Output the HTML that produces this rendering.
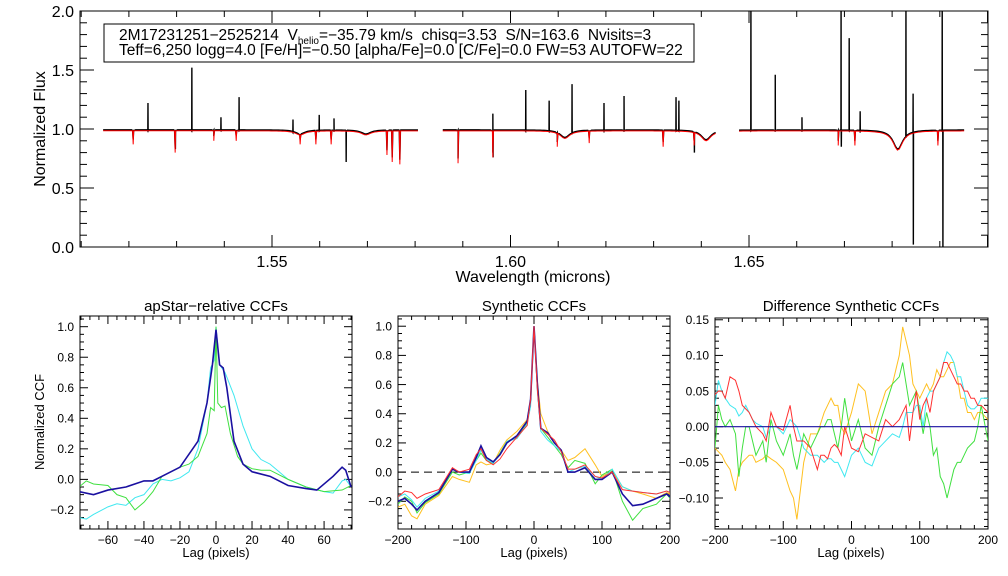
<!DOCTYPE html>
<html><head><meta charset="utf-8"><style>
html,body{margin:0;padding:0;background:#fff;}
svg{display:block;font-family:"Liberation Sans",sans-serif;}
</style></head><body>
<svg id="c" width="1008" height="576" viewBox="0 0 1008 576" xmlns="http://www.w3.org/2000/svg">
<rect width="1008" height="576" fill="#fff"/>
</svg>
<script>
// ---- spectrum data ----
const segments = [[1.5146,1.5806],[1.5858,1.6432],[1.6479,1.6951]];
const spikeWave = [1.5240,1.5332,1.5393,1.5431,1.5544,1.5599,1.5630,1.5963,1.6032,1.6081,1.6129,1.6196,1.6238,1.6347,1.6353,1.6504,1.6555,1.6611,1.6693,1.6710,1.6733,1.6829,1.6844,1.6905];
const spikeFlux = [1.22,1.52,1.10,1.27,1.08,1.12,1.09,1.13,1.33,1.24,1.38,1.22,1.28,1.27,1.24,2.1,1.46,1.10,2.1,1.77,1.15,2.1,1.30,2.1];
const dropWave = [1.5297,1.5655,1.5963,1.6385,1.6693,1.6844,1.6906];
const dropFlux = [0.83,0.72,0.76,0.80,0.85,0.02,-0.1];
const lineWave = [1.5209,1.5297,1.5378,1.5425,1.5559,1.5592,1.5624,1.5741,1.5752,1.5768,1.5890,1.5963,1.6098,1.6165,1.6320,1.6385,1.6687,1.6722,1.6896];
const lineDepth = [0.87,0.80,0.90,0.90,0.87,0.87,0.87,0.78,0.72,0.70,0.71,0.76,0.85,0.88,0.85,0.86,0.86,0.86,0.86];
const broadWave = [1.5559,1.5697,1.6114,1.6410,1.6812];
const broadDepth = [0.95,0.95,0.92,0.90,0.82];

// ---- CCF data ----
const lagA = [-76,-68,-60,-50,-40,-35,-30,-20,-10,-5,-2,0,2,4,6,10,15,20,30,40,50,56,65,70,72,75];
const ccfA_navy = [-0.08,-0.10,-0.07,-0.05,-0.01,-0.01,0.02,0.08,0.25,0.5,0.75,0.98,0.75,0.73,0.6,0.25,0.1,0.05,0.02,-0.04,-0.06,-0.07,0.02,0.08,0.06,-0.05];
const lagB = [-76,-72,-68,-60,-55,-50,-45,-40,-35,-30,-25,-20,-15,-10,-5,-3,-1,0,2,5,10,15,20,25,30,35,40,50,60,65,70,72,75];
const ccfA_cyan = [-0.25,-0.26,-0.23,-0.18,-0.16,-0.17,-0.12,-0.10,-0.03,0.0,-0.01,0.01,0.05,0.2,0.5,0.73,0.78,1.0,0.75,0.7,0.55,0.35,0.2,0.13,0.1,0.05,0.0,-0.05,-0.08,-0.09,-0.01,0.0,-0.05];
const lagC = [-76,-72,-68,-60,-55,-50,-45,-40,-35,-30,-20,-15,-10,-5,-3,-1,0,1,3,5,8,12,15,20,25,30,40,50,60,70,75];
const ccfA_green = [-0.05,-0.01,-0.03,-0.04,-0.10,-0.12,-0.20,-0.15,-0.08,0.02,0.08,0.10,0.15,0.30,0.47,0.45,1.0,0.5,0.47,0.48,0.3,0.15,0.1,0.07,0.06,0.06,0.0,-0.05,-0.08,-0.07,-0.04];

const lagS = [-200,-190,-180,-172,-160,-140,-120,-110,-95,-85,-78,-70,-60,-50,-40,-25,-10,-5,0,5,10,20,30,40,50,60,75,90,100,115,130,145,160,180,195,200];
const syn_navy = [-0.20,-0.18,-0.22,-0.26,-0.20,-0.14,0.02,0.0,0.0,0.10,0.18,0.10,0.07,0.12,0.20,0.25,0.35,0.50,1.0,0.6,0.3,0.27,0.20,0.15,0.0,0.0,0.03,-0.05,-0.05,0.0,-0.15,-0.23,-0.22,-0.18,-0.15,-0.17];
const syn_cyan = [-0.17,-0.15,-0.19,-0.24,-0.18,-0.13,0.02,0.0,-0.01,0.08,0.15,0.09,0.06,0.12,0.21,0.23,0.33,0.45,1.0,0.55,0.28,0.22,0.18,0.14,0.0,0.02,0.04,-0.03,-0.05,0.02,-0.10,-0.13,-0.14,-0.15,-0.13,-0.14];
const syn_green = [-0.22,-0.17,-0.2,-0.28,-0.21,-0.15,0.0,-0.02,0.0,0.08,0.13,0.08,0.06,0.13,0.21,0.24,0.34,0.48,1.0,0.58,0.3,0.24,0.18,0.12,0.03,0.08,0.06,-0.08,-0.02,0.02,-0.2,-0.33,-0.25,-0.22,-0.15,-0.18];
const syn_yellow = [-0.24,-0.22,-0.30,-0.32,-0.22,-0.16,-0.03,-0.05,-0.07,0.05,0.07,0.05,0.06,0.15,0.22,0.28,0.36,0.5,1.0,0.62,0.4,0.28,0.2,0.15,0.08,0.1,0.16,0.05,-0.03,0.01,-0.1,-0.13,-0.15,-0.18,-0.14,-0.15];
const syn_red = [-0.17,-0.13,-0.14,-0.18,-0.15,-0.12,0.03,0.0,0.02,0.12,0.16,0.08,0.05,0.09,0.16,0.24,0.32,0.5,1.0,0.56,0.3,0.26,0.22,0.14,0.02,0.02,0.05,-0.03,-0.04,0.0,-0.12,-0.13,-0.14,-0.15,-0.13,-0.14];

const lagD = [-200,-195,-190,-185,-178,-170,-165,-160,-155,-150,-145,-140,-130,-125,-118,-110,-100,-90,-85,-80,-70,-60,-50,-45,-40,-35,-30,-25,-20,-15,-10,0,10,20,30,40,50,60,70,75,80,85,90,95,100,105,110,115,120,125,130,135,140,145,150,155,160,165,170,175,180,185,190,200];
const diff_red = [0.045,0.05,0.05,0.04,0.07,0.065,0.05,0.03,0.025,0.02,0.01,0.0,-0.01,-0.02,0.02,0.0,-0.005,0.03,0.0,-0.02,-0.02,-0.03,-0.06,-0.04,-0.04,-0.045,-0.03,-0.025,-0.03,-0.04,0.0,-0.03,-0.035,-0.01,-0.015,-0.02,0.01,0.0,0.01,0.02,0.03,-0.02,0.02,0.05,0.01,0.03,0.04,0.02,0.05,0.06,0.07,0.09,0.09,0.08,0.07,0.06,0.06,0.05,0.05,0.04,0.04,0.03,0.03,0.02];
const diff_cyan = [0.03,0.065,0.05,0.04,0.03,0.025,0.015,0.02,0.03,0.02,0.01,0.005,0.0,-0.015,0.0,0.0,-0.01,0.01,0.005,0.0,-0.03,-0.04,-0.04,-0.045,-0.05,-0.045,-0.045,-0.05,-0.05,-0.06,-0.07,-0.04,-0.03,-0.05,-0.055,-0.03,-0.02,-0.01,-0.015,0.0,0.02,0.02,0.02,0.03,0.03,0.0,0.04,0.05,0.05,0.06,0.07,0.09,0.105,0.1,0.09,0.07,0.07,0.05,0.03,0.025,0.025,0.03,0.04,0.04];
const diff_green = [-0.03,0.03,0.01,0.0,0.01,-0.01,-0.07,-0.03,0.0,0.0,-0.02,-0.04,-0.02,-0.05,0.01,-0.02,-0.04,-0.01,-0.04,-0.06,-0.01,-0.03,-0.01,0.0,0.0,0.01,0.01,-0.01,-0.03,0.0,0.04,-0.02,0.01,-0.03,-0.04,0.0,0.03,0.06,0.07,0.09,0.06,0.03,0.04,0.05,0.02,-0.01,0.02,0.0,-0.04,-0.03,-0.07,-0.08,-0.1,-0.08,-0.06,-0.05,-0.05,-0.04,-0.03,-0.025,-0.02,0.0,0.03,-0.02];
const diff_yellow = [-0.03,-0.035,-0.04,-0.05,-0.06,-0.09,-0.06,-0.05,-0.045,-0.04,-0.04,-0.05,-0.045,-0.04,-0.045,-0.05,-0.06,-0.09,-0.1,-0.13,-0.05,-0.01,-0.01,0.005,0.02,0.03,0.04,0.03,0.03,0.0,-0.01,0.02,0.06,0.05,-0.01,0.02,0.05,0.06,0.1,0.14,0.12,0.1,0.06,0.05,0.04,0.05,0.06,0.05,0.06,0.08,0.07,0.07,0.08,0.09,0.09,0.07,0.04,0.04,0.02,0.02,0.01,0.02,0.02,0.01];

const NS = "http://www.w3.org/2000/svg";
const svg = document.getElementById('c');
function el(tag, attrs, parent){ const e=document.createElementNS(NS,tag); for(const k in attrs) e.setAttribute(k,attrs[k]); (parent||svg).appendChild(e); return e; }
function txt(s,x,y,size,anchor,parent,rot){ const t=el('text',{x:x,y:y,'font-size':size,'text-anchor':anchor||'middle',fill:'#000'},parent); if(rot) t.setAttribute('transform','rotate(-90 '+x+' '+y+')'); t.textContent=s; return t; }

function axes(p){
  const g=el('g',{});
  
  
  el('rect',{x:p.x0,y:p.y0,width:p.x1-p.x0,height:p.y1-p.y0,fill:'none',stroke:'#000','stroke-width':1},g);
  const X=v=>p.x0+(v-p.xmin)/(p.xmax-p.xmin)*(p.x1-p.x0);
  const Y=v=>p.y1-(v-p.ymin)/(p.ymax-p.ymin)*(p.y1-p.y0);
  p.X=X; p.Y=Y;
  const eps=1e-9;
  for(let v=Math.ceil(p.xmin/p.xminor-eps)*p.xminor; v<=p.xmax+eps; v+=p.xminor){
    const isMaj=Math.abs(v/p.xmajor-Math.round(v/p.xmajor))<1e-6; const L=isMaj?p.tl:p.tl/2; const x=X(v);
    el('line',{x1:x,y1:p.y1,x2:x,y2:p.y1-L,stroke:'#000'},g); el('line',{x1:x,y1:p.y0,x2:x,y2:p.y0+L,stroke:'#000'},g);
  }
  for(let v=Math.ceil(p.ymin/p.yminor-eps)*p.yminor; v<=p.ymax+eps; v+=p.yminor){
    const isMaj=Math.abs(v/p.ymajor-Math.round(v/p.ymajor))<1e-6; const L=isMaj?p.tlx:p.tlx/2; const y=Y(v);
    el('line',{x1:p.x0,y1:y,x2:p.x0+L,y2:y,stroke:'#000'},g); el('line',{x1:p.x1,y1:y,x2:p.x1-L,y2:y,stroke:'#000'},g);
  }
  p.xlabels.forEach(v=>{ const t=txt(p.xfmt(v),X(v),p.y1+p.xlo,p.fs,'middle',g);   });
  p.ylabels.forEach(v=>{ const t=txt(p.yfmt(v),p.x0-p.ylo,Y(v)+p.fs*0.36,p.fs,'end',g);   });
  return g;
}
function line(p,xs,ys,color,w,name,dash){
  const pts=xs.map((x,i)=>p.X(x).toFixed(2)+','+p.Y(ys[i]).toFixed(2)).join(' ');
  const pl=el('polyline',{points:pts,fill:'none',stroke:color,'stroke-width':w||1,'clip-path':'url(#'+p.clip+')'});
  if(dash) pl.setAttribute('stroke-dasharray',dash);
  
  
  return pl;
}
const defs=el('defs',{});
function clip(id,p){ const c=el('clipPath',{id:id},defs); el('rect',{x:p.x0,y:p.y0,width:p.x1-p.x0,height:p.y1-p.y0},c); p.clip=id; }

// ---- top spectrum panel ----
const P={name:'spectrum',x0:80,x1:988,y0:11,y1:247,xmin:1.50975,xmax:1.7001,ymin:0,ymax:2,xmajor:0.05,xminor:0.01,ymajor:0.5,yminor:0.1,tl:12,tlx:14,
 xlabels:[1.55,1.60,1.65],ylabels:[0,0.5,1,1.5,2],xfmt:v=>v.toFixed(2),yfmt:v=>v.toFixed(1),fs:16,xlo:20,ylo:6};
clip('clipTop',P); axes(P);
function modelAt(l){ let f=0.985; broadWave.forEach((b,i)=>{ const d=(l-b)/0.0012; f-= (0.985-broadDepth[i])/(1+d*d); }); return f; }
segments.forEach((s,si)=>{
  const rx=[],ry=[],bx=[],by=[];
  const lines=[];
  lineWave.forEach((w,i)=>{ if(w>=s[0]&&w<=s[1]) lines.push({w:w,d:lineDepth[i]}); });
  const sp=[];
  spikeWave.forEach((w,i)=>{ if(w>=s[0]&&w<=s[1]) sp.push({w:w,f:spikeFlux[i]}); });
  dropWave.forEach((w,i)=>{ if(w>=s[0]&&w<=s[1]) sp.push({w:w+0.00005,f:dropFlux[i]}); });
  for(let l=s[0]; l<=s[1]; l+=0.0004){ rx.push(l); ry.push(modelAt(l)); bx.push(l); by.push(modelAt(l)+0.008); }
  lines.forEach(o=>{ rx.push(o.w-0.00012,o.w,o.w+0.00012); ry.push(modelAt(o.w),o.d,modelAt(o.w)); bx.push(o.w-0.00012,o.w,o.w+0.00012); by.push(modelAt(o.w),o.d+0.04,modelAt(o.w)); });
  sp.forEach(o=>{ bx.push(o.w-0.00003,o.w,o.w+0.00003); by.push(modelAt(o.w),o.f,modelAt(o.w)); });
  const ordR=rx.map((v,i)=>i).sort((a,b)=>rx[a]-rx[b]);
  const ordB=bx.map((v,i)=>i).sort((a,b)=>bx[a]-bx[b]);
  line(P,ordB.map(i=>bx[i]),ordB.map(i=>by[i]),'#000',1.4,'observed-spectrum-seg'+(si+1));
  line(P,ordR.map(i=>rx[i]),ordR.map(i=>ry[i]),'#ff0000',1,'model-spectrum-seg'+(si+1));
});
{ const t=txt('Normalized Flux',45,129,16,'middle',svg,true);  
  const t2=txt('Wavelength (microns)',533,282,16,'middle');   }
// info box
{ const g=el('g',{});  
  el('rect',{x:104,y:24,width:590,height:38,fill:'#fff',stroke:'#000'},g);
  const t1=el('text',{x:119,y:40,'font-size':15.5,fill:'#000'},g);
  t1.innerHTML='2M17231251\u22122525214&#160; V<tspan font-size="10" dy="4">helio</tspan><tspan dy="-4">=\u221235.79 km/s&#160; chisq=3.53&#160; S/N=163.6&#160; Nvisits=3</tspan>';
  const t2=el('text',{x:119,y:55,'font-size':15.5,fill:'#000'},g);
  t2.textContent='Teff=6,250 logg=4.0 [Fe/H]=\u22120.50 [alpha/Fe]=0.0 [C/Fe]=0.0 FW=53 AUTOFW=22';
}

// ---- bottom panels ----
const fmt2=v=>(v<0?'\u2212':'')+Math.abs(v).toFixed(1);
const A={name:'apstar-ccf',x0:80,x1:352,y0:316,y1:529,xmin:-75.5,xmax:75.5,ymin:-0.325,ymax:1.07,xmajor:20,xminor:5,ymajor:0.2,yminor:0.05,tl:8,tlx:8,
 xlabels:[-60,-40,-20,0,20,40,60],ylabels:[-0.2,0,0.2,0.4,0.6,0.8,1.0],xfmt:v=>(v<0?'\u2212':'')+Math.abs(v),yfmt:fmt2,fs:12,xlo:15,ylo:6};
clip('clipA',A); axes(A);
line(A,lagB,ccfA_cyan,'#40e8f0',1,'apstar-ccf-cyan');
line(A,lagC,ccfA_green,'#40e040',1,'apstar-ccf-green');
line(A,lagA,ccfA_navy,'#1a10a0',1.6,'apstar-ccf-navy');

const B={name:'synthetic-ccf',x0:398,x1:670,y0:316,y1:529,xmin:-200,xmax:200,ymin:-0.39,ymax:1.07,xmajor:100,xminor:20,ymajor:0.2,yminor:0.05,tl:8,tlx:8,
 xlabels:[-200,-100,0,100,200],ylabels:[-0.2,0,0.2,0.4,0.6,0.8,1.0],xfmt:v=>(v<0?'\u2212':'')+Math.abs(v),yfmt:fmt2,fs:12,xlo:15,ylo:6};
clip('clipB',B); axes(B);
line(B,[-200,200],[0,0],'#000',1,'zero-line','8,5');
line(B,lagS,syn_yellow,'#ffc020',1,'synthetic-ccf-yellow');
line(B,lagS,syn_green,'#40e040',1,'synthetic-ccf-green');
line(B,lagS,syn_cyan,'#40e8f0',1,'synthetic-ccf-cyan');
line(B,lagS,syn_navy,'#1a10a0',1.6,'synthetic-ccf-navy');
line(B,lagS,syn_red,'#ff3030',1,'synthetic-ccf-red');

const fmt3=v=>(v<-1e-9?'\u2212':'')+Math.abs(v).toFixed(2);
const C={name:'difference-ccf',x0:715,x1:988,y0:318,y1:529,xmin:-200,xmax:200,ymin:-0.1435,ymax:0.1525,xmajor:100,xminor:20,ymajor:0.05,yminor:0.01,tl:8,tlx:8,
 xlabels:[-200,-100,0,100,200],ylabels:[-0.1,-0.05,0,0.05,0.1,0.15],xfmt:v=>(v<0?'\u2212':'')+Math.abs(v),yfmt:fmt3,fs:12,xlo:15,ylo:6};
clip('clipC',C); axes(C);
line(C,lagD,diff_yellow,'#ffc020',1,'difference-ccf-yellow');
line(C,lagD,diff_green,'#40e040',1,'difference-ccf-green');
line(C,lagD,diff_cyan,'#40e8f0',1,'difference-ccf-cyan');
line(C,lagD,diff_red,'#ff3030',1,'difference-ccf-red');
line(C,[-200,200],[0,0],'#1a10a0',1.2,'difference-ccf-navy');

[['apStar\u2212relative CCFs',216,A],['Synthetic CCFs',534,B],['Difference Synthetic CCFs',851,C]].forEach(a=>{
  const t=txt(a[0],a[1],311,15);  
  const l=txt('Lag (pixels)',a[1],557,13);  
});
{ const t=txt('Normalized CCF',44,422,13,'middle',svg,true);   }
</script>
</body></html>
